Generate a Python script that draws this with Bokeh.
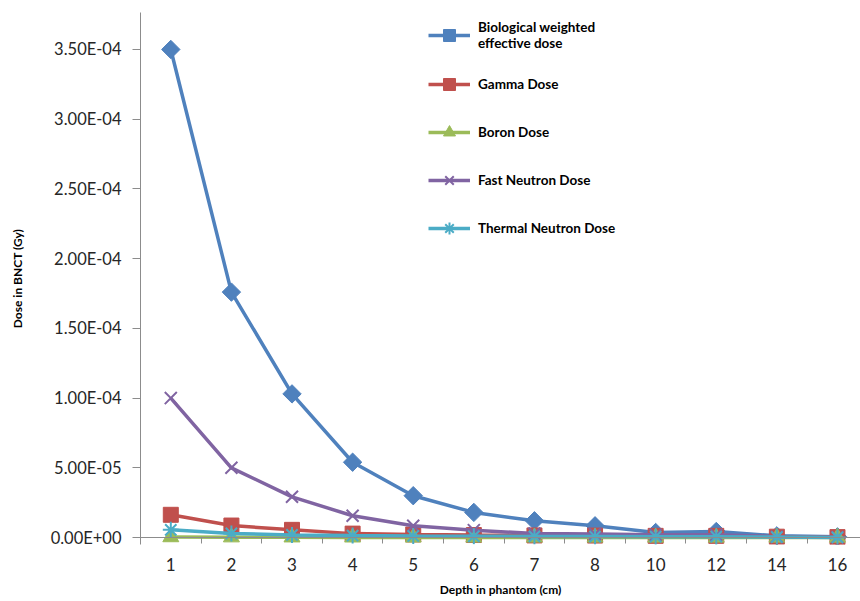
import numpy as np
from bokeh.plotting import figure
from bokeh.models import (Range1d, FixedTicker, LinearAxis, Legend, LegendItem,
                          CustomJSTickFormatter)
from bokeh.embed import file_html
from bokeh.resources import INLINE

# ---- data ----
depth_labels = ["1", "2", "3", "4", "5", "6", "7", "8", "10", "12", "14", "16"]
bio_dose = [3.50e-4, 1.76e-4, 1.03e-4, 5.4e-5, 3.0e-5, 1.8e-5, 1.2e-5, 8.4e-6, 3.6e-6, 4.3e-6, 1.2e-6, 5e-7]
gamma_dose = [1.63e-5, 8.6e-6, 5.5e-6, 2.8e-6, 2.2e-6, 1.8e-6, 1.5e-6, 1.4e-6, 1.2e-6, 1.2e-6, 6e-7, 3e-7]
boron_dose = [3e-7, 2e-7, 1.5e-7, 1e-7, 1e-7, 8e-8, 6e-8, 5e-8, 4e-8, 3e-8, 2e-8, 1e-8]
fast_dose = [1.0e-4, 5.0e-5, 2.92e-5, 1.56e-5, 8.4e-6, 5.3e-6, 2.9e-6, 2.5e-6, 2.0e-6, 2.0e-6, 6e-7, 3e-7]
thermal_dose = [5.5e-6, 2.9e-6, 1.9e-6, 1.4e-6, 1.1e-6, 9e-7, 8e-7, 7e-7, 6e-7, 6e-7, 3e-7, 1e-7]
y_ticks = [0.0, 5e-5, 1e-4, 1.5e-4, 2e-4, 2.5e-4, 3e-4, 3.5e-4]

x_pos = list(range(len(depth_labels)))
FONT = "Lato"
AXIS_GRAY = "#8c8c8c"

p = figure(width=860, height=601, output_backend="svg", toolbar_location=None,
           x_range=Range1d(-0.5, 11.38), y_range=Range1d(-5.0e-6, 3.765e-4),
           x_axis_location=None, y_axis_location=None,
           min_border_left=140, min_border_right=0, min_border_top=12, min_border_bottom=57)
p.outline_line_color = None
p.grid.visible = False

# y axis
yaxis = LinearAxis(ticker=FixedTicker(ticks=y_ticks, minor_ticks=[]))
yaxis.formatter = CustomJSTickFormatter(code="""
var s = tick.toExponential(2).toUpperCase();
var parts = s.split("E");
var e = parseInt(parts[1]);
var sign = e < 0 ? "-" : "+";
var a = Math.abs(e);
return parts[0] + "E" + sign + (a < 10 ? "0" : "") + a;
""")
yaxis.axis_label = "Dose in BNCT (Gy)"
yaxis.axis_label_text_font = FONT
yaxis.axis_label_text_font_style = "bold"
yaxis.axis_label_text_font_size = "12px"
yaxis.axis_label_text_color = "#000000"
yaxis.axis_label_standoff = 23
yaxis.major_label_text_font = FONT
yaxis.major_label_text_font_size = "16.5px"
yaxis.major_label_text_color = "#262626"
yaxis.major_label_standoff = 11
yaxis.major_tick_out = 8
yaxis.major_tick_in = 0
yaxis.minor_tick_out = 0
yaxis.minor_tick_in = 0
yaxis.axis_line_color = AXIS_GRAY
yaxis.major_tick_line_color = AXIS_GRAY
p.add_layout(yaxis, "left")

# x axis line and boundary ticks at y = 0
xline = LinearAxis(ticker=FixedTicker(ticks=[], minor_ticks=[i - 0.5 for i in range(len(depth_labels) + 1)]),
                   fixed_location=0)
xline.major_label_text_font_size = "0px"
xline.major_tick_out = 0
xline.major_tick_in = 0
xline.minor_tick_out = 6
xline.minor_tick_in = 0
xline.axis_line_color = AXIS_GRAY
xline.minor_tick_line_color = AXIS_GRAY
p.add_layout(xline, "below")

# x axis labels (no line) below the frame
xaxis = LinearAxis(ticker=FixedTicker(ticks=x_pos, minor_ticks=[]))
xaxis.major_label_overrides = {i: lab for i, lab in enumerate(depth_labels)}
xaxis.axis_label = "Depth in phantom (cm)"
xaxis.axis_label_text_font = FONT
xaxis.axis_label_text_font_style = "bold"
xaxis.axis_label_text_font_size = "12px"
xaxis.axis_label_text_color = "#000000"
xaxis.axis_label_standoff = 8
xaxis.major_label_text_font = FONT
xaxis.major_label_text_font_size = "17px"
xaxis.major_label_text_color = "#262626"
xaxis.major_label_standoff = 13
xaxis.major_tick_out = 0
xaxis.major_tick_in = 0
xaxis.minor_tick_out = 0
xaxis.minor_tick_in = 0
xaxis.axis_line_color = None
xaxis.major_tick_line_color = None
p.add_layout(xaxis, "below")

series = [
    ("Biological weighted\neffective dose", bio_dose, "#4F81BD", "square", 13, np.pi / 4, 1.0),
    ("Gamma Dose", gamma_dose, "#C0504D", "square", 15, 0.0, 1.0),
    ("Boron Dose", boron_dose, "#9BBB59", "triangle", 16, 0.0, 1.0),
    ("Fast Neutron Dose", fast_dose, "#8064A2", "x", 17, 0.0, 2.0),
    ("Thermal Neutron Dose", thermal_dose, "#4BACC6", "asterisk", 16, 0.0, 2.0),
]

items = []
for label, vals, color, marker, size, angle, mlw in series:
    lr = p.line(x_pos, vals, line_color=color, line_width=3.5)
    sr = p.scatter(x_pos, vals, marker=marker, size=size, angle=angle,
                   fill_color=color, line_color=color, line_width=mlw)
    items.append(LegendItem(label=label, renderers=[lr, sr]))

legend = Legend(items=items, location=(288, 301), orientation="vertical",
                border_line_color=None, background_fill_alpha=0,
                padding=0, margin=0, spacing=18,
                label_text_font=FONT, label_text_font_style="bold",
                label_text_font_size="13.5px", label_text_color="#000000",
                glyph_width=42, glyph_height=30, label_height=30, label_standoff=8)
p.add_layout(legend, "center")

open("out.html", "w").write(file_html(p, INLINE))
